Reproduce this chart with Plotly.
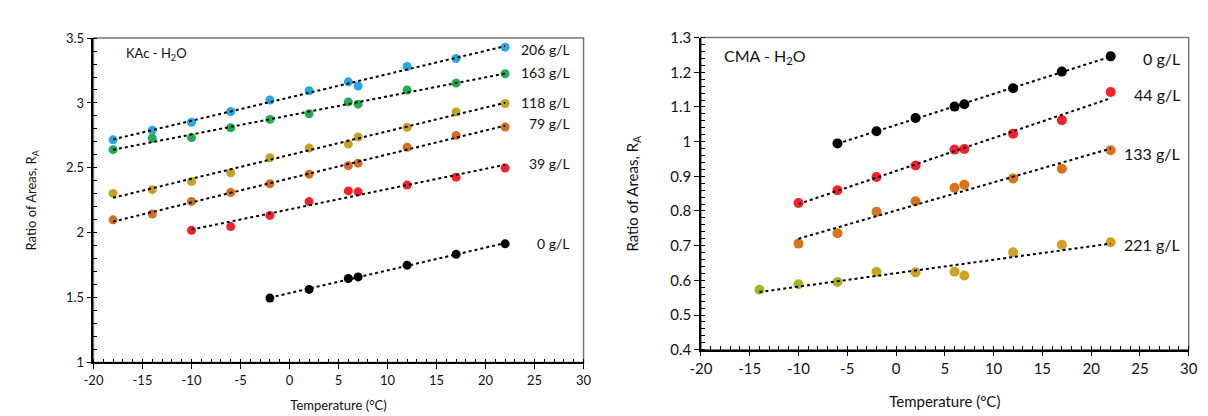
import numpy as np
import plotly.graph_objects as go

# ---------------- data ----------------
temps_all = [-18, -14, -10, -6, -2, 2, 6, 7, 12, 17, 22]

# Left panel: KAc - H2O
kac_206 = [2.716, 2.79, 2.851, 2.934, 3.023, 3.094, 3.163, 3.131, 3.281, 3.343, 3.43]
kac_163 = [2.64, 2.728, 2.733, 2.809, 2.873, 2.917, 3.008, 2.991, 3.10, 3.153, 3.225]
kac_118 = [2.303, 2.332, 2.394, 2.462, 2.578, 2.652, 2.683, 2.738, 2.812, 2.93, 2.996]
kac_79 = [2.099, 2.144, 2.241, 2.31, 2.377, 2.451, 2.517, 2.536, 2.659, 2.75, 2.814]
kac_39_t = [-10, -6, -2, 2, 6, 7, 12, 17, 22]
kac_39 = [2.018, 2.047, 2.133, 2.24, 2.322, 2.315, 2.367, 2.428, 2.499]
kac_0_t = [-2, 2, 6, 7, 12, 17, 22]
kac_0 = [1.496, 1.563, 1.647, 1.659, 1.75, 1.833, 1.914]
kac_labels = ["206 g/L", "163 g/L", "118 g/L", "79 g/L", "39 g/L", "0 g/L"]
kac_label_y = [3.41, 3.237, 3.004, 2.844, 2.536, 1.915]

# Right panel: CMA - H2O
cma_0_t = [-6, -2, 2, 6, 7, 12, 17, 22]
cma_0 = [0.995, 1.030, 1.068, 1.101, 1.108, 1.154, 1.202, 1.246]
cma_44_t = [-10, -6, -2, 2, 6, 7, 12, 17, 22]
cma_44 = [0.823, 0.860, 0.898, 0.931, 0.977, 0.979, 1.023, 1.062, 1.143]
cma_133_t = [-10, -6, -2, 2, 6, 7, 12, 17, 22]
cma_133 = [0.706, 0.736, 0.798, 0.828, 0.867, 0.876, 0.894, 0.922, 0.975]
cma_221_t = [-14, -10, -6, -2, 2, 6, 7, 12, 17, 22]
cma_221 = [0.573, 0.589, 0.595, 0.625, 0.623, 0.625, 0.614, 0.681, 0.703, 0.710]
cma_labels = ["0 g/L", "44 g/L", "133 g/L", "221 g/L"]
cma_label_y = [1.241, 1.136, 0.966, 0.703]

x_ticks = [-20, -15, -10, -5, 0, 5, 10, 15, 20, 25, 30]
x_tick_labels = ["-20", "-15", "-10", "-5", "0", "5", "10", "15", "20", "25", "30"]
left_y_ticks = [1, 1.5, 2, 2.5, 3, 3.5]
left_y_labels = ["1", "1.5", "2", "2.5", "3", "3.5"]
right_y_ticks = [0.4, 0.5, 0.6, 0.7, 0.8, 0.9, 1, 1.1, 1.2, 1.3]
right_y_labels = ["0.4", "0.5", "0.6", "0.7", "0.8", "0.9", "1", "1.1", "1.2", "1.3"]

# ---------------- styles ----------------
FONT = "Lato"
c_blue = "#26a9e0"
c_green = "#22ad55"
c_gold = "#c2a326"
c_orange = "#d46d22"
c_red = "#f7202c"
c_black = "#000000"
c_221 = ["#a9b424", "#b0b024", "#b4ae24", "#c3a824", "#c7a524",
         "#cfa422", "#d2a222", "#d1a222", "#d4a022", "#d2a020"]
c_133 = "#d8731c"

fig = go.Figure()

def add_series(t, r, color, xa, ya, size=9):
    t = np.array(t, dtype=float)
    r = np.array(r, dtype=float)
    m, b = np.polyfit(t, r, 1)
    xs = np.array([t.min(), t.max()])
    fig.add_trace(go.Scatter(x=t, y=r, mode="markers", xaxis=xa, yaxis=ya,
                             marker=dict(color=color, size=size, line=dict(width=0)),
                             showlegend=False, hoverinfo="x+y"))
    fig.add_trace(go.Scatter(x=xs, y=m * xs + b, mode="lines", xaxis=xa, yaxis=ya,
                             line=dict(color="black", width=2, dash="dot"),
                             showlegend=False, hoverinfo="skip"))

add_series(temps_all, kac_206, c_blue, "x", "y")
add_series(temps_all, kac_163, c_green, "x", "y")
add_series(temps_all, kac_118, c_gold, "x", "y")
add_series(temps_all, kac_79, c_orange, "x", "y")
add_series(kac_39_t, kac_39, c_red, "x", "y")
add_series(kac_0_t, kac_0, c_black, "x", "y")

add_series(cma_0_t, cma_0, c_black, "x2", "y2", 10)
add_series(cma_44_t, cma_44, c_red, "x2", "y2", 10)
add_series(cma_133_t, cma_133, c_133, "x2", "y2", 10)
add_series(cma_221_t, cma_221, c_221, "x2", "y2", 10)

annotations = []
for lab, yv in zip(kac_labels, kac_label_y):
    annotations.append(dict(x=28.8, y=yv, xref="x", yref="y", text=lab, showarrow=False,
                            xanchor="right", yanchor="middle",
                            font=dict(family=FONT, size=14, color="#111")))
for lab, yv in zip(cma_labels, cma_label_y):
    annotations.append(dict(x=29.3, y=yv, xref="x2", yref="y2", text=lab, showarrow=False,
                            xanchor="right", yanchor="middle",
                            font=dict(family=FONT, size=16, color="#111")))
annotations.append(dict(x=0.062, y=0.95, xref="x domain", yref="y domain",
                        text="KAc - H<sub>2</sub>O", showarrow=False, xanchor="left",
                        yanchor="middle", font=dict(family=FONT, size=13, color="#111")))
annotations.append(dict(x=0.043, y=0.94, xref="x2 domain", yref="y2 domain",
                        text="CMA - H<sub>2</sub>O", showarrow=False, xanchor="left",
                        yanchor="middle", font=dict(family=FONT, size=16, color="#111")))

shapes = [
    dict(type="rect", xref="x domain", yref="y domain", x0=0, x1=1, y0=0, y1=1,
         line=dict(color="#777", width=1.5), layer="below"),
    dict(type="rect", xref="x2 domain", yref="y2 domain", x0=0, x1=1, y0=0, y1=1,
         line=dict(color="#777", width=1.5), layer="below"),
]

def xaxis(domain, anchor, fs, standoff):
    return dict(domain=domain, anchor=anchor, range=[-20, 30],
                tickvals=x_ticks, ticktext=x_tick_labels,
                ticks="outside", ticklen=5, tickcolor="black", showgrid=False,
                zeroline=False, showline=True, linecolor="black", linewidth=1.5,
                minor=dict(ticks="inside", dtick=1, ticklen=4, tickcolor="black", showgrid=False),
                tickfont=dict(family=FONT, size=fs, color="#111"),
                title=dict(text="Temperature (°C)", font=dict(family=FONT, size=fs, color="#111"),
                           standoff=standoff))

def yaxis(domain, anchor, rng, ticks, labels, dminor, fs, tfs, standoff):
    return dict(domain=domain, anchor=anchor, range=rng, tickvals=ticks, ticktext=labels,
                ticks="outside", ticklen=5, tickcolor="black", showgrid=False,
                zeroline=False, showline=True, linecolor="black", linewidth=1.5,
                minor=dict(ticks="inside", dtick=dminor, ticklen=4, tickcolor="black", showgrid=False),
                tickfont=dict(family=FONT, size=fs, color="#111"),
                title=dict(text="Ratio of Areas, R<sub>A</sub>",
                           font=dict(family=FONT, size=tfs, color="#111"), standoff=standoff))

fig.update_layout(
    width=1208, height=416,
    margin=dict(l=0, r=0, t=0, b=0),
    paper_bgcolor="white", plot_bgcolor="white",
    xaxis=xaxis([0.0627, 0.4752], "y", 13, 14),
    yaxis=yaxis([0.1346, 0.9495], "x", [1, 3.5], left_y_ticks, left_y_labels, 0.1, 13, 13, 26),
    xaxis2=xaxis([0.574, 0.9846], "y2", 15, 20),
    yaxis2=yaxis([0.1666, 0.9507], "x2", [0.4, 1.3], right_y_ticks, right_y_labels,
                 0.02, 15, 15, 28),
    annotations=annotations,
    shapes=shapes,
    showlegend=False,
)

fig.write_html("out.html")
